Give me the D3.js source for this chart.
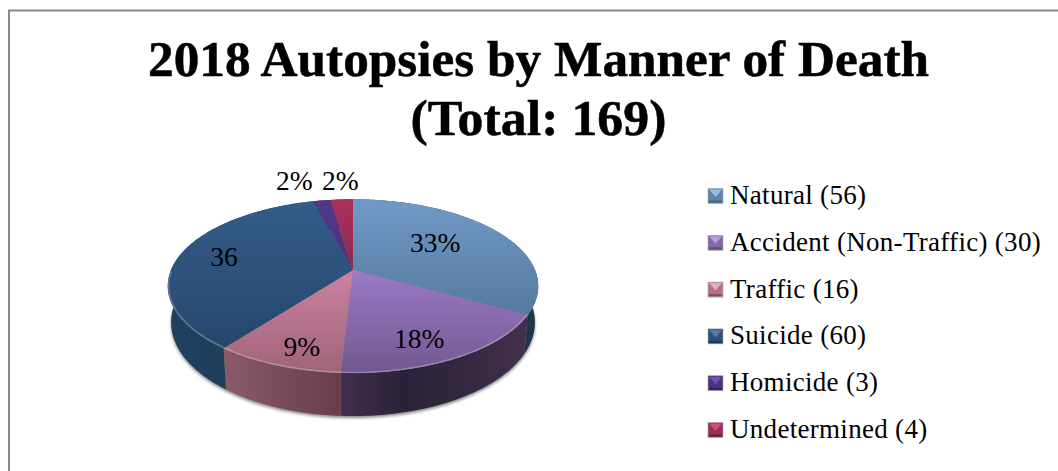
<!DOCTYPE html>
<html>
<head>
<meta charset="utf-8">
<script src="https://cdn.jsdelivr.net/npm/d3@7"></script>
<style>
  html, body { margin: 0; padding: 0; background: #fff; }
  svg { display: block; }
  text { font-family: "Liberation Serif", serif; fill: #000; }
</style>
</head>
<body>
<svg id="chart" width="1058" height="471"></svg>
<script>
// chart values
var titleLines = ["2018 Autopsies by Manner of Death", "(Total: 169)"];
var categories = ["Natural (56)", "Accident (Non-Traffic) (30)", "Traffic (16)", "Suicide (60)", "Homicide (3)", "Undetermined (4)"];
var counts = [56, 30, 16, 60, 3, 4];
var sliceLabels = ["33%", "18%", "9%", "36", "2%", "2%"];

// styles, one per slice
var topColors = [["#7199c8", "#557a9e"], ["#9b79c7", "#725990"], ["#cc82a0", "#a0647a"], ["#345c89", "#26476c"], ["#53388a", "#4a3278"], ["#aa325d", "#8a2a4e"]];
var wallColors = [["#1f3a50", "#1e3648"], ["#41304f", "#33283f"], ["#8a5a6b", "#683d49"], ["#21405f", "#1f3a57"], ["#2a1f45", "#2a1f45"], ["#5a1f35", "#5a1f35"]];
var legendColors = [["#8fc0e8", "#5f84a8", "#44617e"], ["#b79be0", "#8468a8", "#5f4a7c"], ["#eba6c0", "#b0708a", "#84505f"], ["#4f7ba8", "#2c5078", "#1d3a58"], ["#7050b0", "#4c3480", "#352258"], ["#d84c78", "#98305a", "#6a2040"]];
var labelRadius = [0.7, 0.7, 0.7, 0.7, 1.25, 1.25];
var labelNudge = [[-21, 1], [-3, 11], [-1, 14], [-7, -2], [-21, -5], [1, -4]];

var svg = d3.select("#chart");
var defs = svg.append("defs");

// frame, runs off the right and bottom of the picture
svg.append("path")
  .attr("d", "M9,471V10.5H1058")
  .attr("fill", "none")
  .attr("stroke", "#888")
  .attr("stroke-width", 2);

// title, stretched to the width of the original face
svg.selectAll("text.title")
  .data(titleLines)
  .enter().append("text")
  .attr("class", "title")
  .attr("x", 538.5)
  .attr("y", function(d, i) { return 76 + i * 59; })
  .attr("text-anchor", "middle")
  .attr("font-size", 50)
  .attr("font-weight", "bold")
  .attr("stroke", "#000")
  .attr("stroke-width", 0.5)
  .attr("lengthAdjust", "spacingAndGlyphs")
  .attr("textLength", function(d, i) { return i ? 256 : 781; })
  .text(function(d) { return d; });

// the pie is a flat disc seen in perspective
var cx = 353, cy = 270, rx = 182, ry = 83.9, persp = 0.186;

function project(angle, r) {
  var u = r * Math.sin(angle), v = r * Math.cos(angle), w = 1 + persp * v;
  return [cx + rx * u / w, cy - ry * v / w, w];
}

// same point on the lower rim of the disc
function projectLow(angle) {
  var p = project(angle, 1);
  return [cx + (p[0] - cx) * 0.982, p[1] + 35 / p[2]];
}

var arcs = d3.pie().sort(null)(counts);
var line = d3.line();

function arcSteps(a) {
  var n = Math.max(2, Math.ceil((a.endAngle - a.startAngle) * 60));
  return d3.range(n + 1).map(function(i) { return a.startAngle + (a.endAngle - a.startAngle) * i / n; });
}

function gradient(id, x1, y1, x2, y2, colors) {
  var g = defs.append("linearGradient").attr("id", id)
    .attr("gradientUnits", "userSpaceOnUse")
    .attr("x1", x1).attr("y1", y1).attr("x2", x2).attr("y2", y2);
  colors.forEach(function(c, i) {
    g.append("stop").attr("offset", i / (colors.length - 1)).attr("stop-color", c);
  });
  return "url(#" + id + ")";
}

var blur = defs.append("filter").attr("id", "soft")
  .attr("x", "-10%").attr("y", "-10%").attr("width", "120%").attr("height", "120%");
blur.append("feGaussianBlur").attr("stdDeviation", 1.6);

// soft shadow under the disc
var fullCircle = d3.range(0, 2 * Math.PI + 0.02, 0.02);
svg.append("path")
  .attr("d", line(fullCircle.map(projectLow)) + "Z")
  .attr("transform", "translate(0,2)")
  .attr("fill", "#888")
  .attr("filter", "url(#soft)");

var pie = svg.append("g");

// side walls first, so the top faces cover the back of them
arcs.forEach(function(a, i) {
  var steps = arcSteps(a);
  var upper = steps.map(function(t) { return project(t, 1).slice(0, 2); });
  var lower = steps.map(projectLow).reverse();
  var xs = upper.concat(lower).map(function(p) { return p[0]; });
  var xr = d3.extent(xs);
  pie.append("path")
    .attr("d", line(upper.concat(lower)) + "Z")
    .attr("fill", gradient("wall" + i, xr[0], 0, xr[1], 0, i == 1 ? [wallColors[1][0], "#2a2238", wallColors[1][1], "#44304e"] : wallColors[i]));
});

// top faces
arcs.forEach(function(a, i) {
  var pts = [project(0, 0).slice(0, 2)].concat(arcSteps(a).map(function(t) { return project(t, 1).slice(0, 2); }));
  var yr = d3.extent(pts, function(p) { return p[1]; });
  pie.append("path")
    .attr("d", line(pts) + "Z")
    .attr("fill", gradient("top" + i, 0, yr[0], 0, yr[1], topColors[i]));
});

// light bevel along the rim of the top face
var rim = d3.range(Math.PI * 0.66, Math.PI * 1.5, 0.02).map(function(t) { return project(t, 0.995).slice(0, 2); });
pie.append("path")
  .attr("d", line(rim))
  .attr("fill", "none")
  .attr("stroke", "#fff")
  .attr("stroke-opacity", 0.25)
  .attr("stroke-width", 1.5);

// slice labels
svg.selectAll("text.slice")
  .data(arcs)
  .enter().append("text")
  .attr("class", "slice")
  .attr("text-anchor", "middle")
  .attr("font-size", 27.5)
  .attr("transform", function(a, i) {
    var p = project((a.startAngle + a.endAngle) / 2, labelRadius[i]);
    return "translate(" + (p[0] + labelNudge[i][0]) + "," + (p[1] + labelNudge[i][1] + 9) + ")";
  })
  .text(function(a, i) { return sliceLabels[i]; });

// legend
var legendY = d3.scalePoint().domain(categories).range([196, 430]);
var box = 15;

var legend = svg.selectAll("g.legend")
  .data(categories)
  .enter().append("g")
  .attr("class", "legend")
  .attr("transform", function(d) { return "translate(708," + legendY(d) + ")"; });

legend.append("rect")
  .attr("y", -box / 2)
  .attr("width", box)
  .attr("height", box)
  .attr("fill", function(d, i) { return legendColors[i][1]; })
  .attr("stroke", "#aaa")
  .attr("stroke-width", 0.6);

// bevel facets of the marker
legend.append("path")
  .attr("d", line([[1, -box / 2 + 1], [box - 1, -box / 2 + 1], [box / 2, 1]]) + "Z")
  .attr("fill", function(d, i) { return legendColors[i][0]; });

legend.append("rect")
  .attr("x", 1)
  .attr("y", box / 2 - 3)
  .attr("width", box - 2)
  .attr("height", 2)
  .attr("fill", function(d, i) { return legendColors[i][2]; });

legend.append("text")
  .attr("x", 22)
  .attr("y", 8)
  .attr("font-size", 27)
  .attr("letter-spacing", 0.3)
  .text(function(d) { return d; });
</script>
</body>
</html>
